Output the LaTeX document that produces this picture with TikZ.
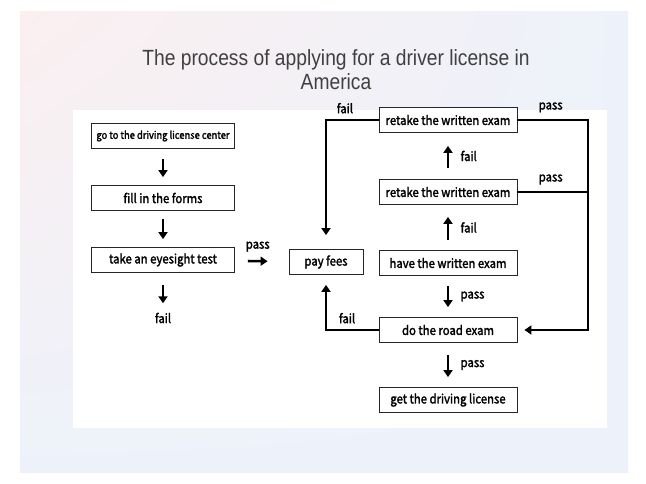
\documentclass[tikz,border=0pt]{standalone}
\usepackage{fontspec}
\setmainfont{Liberation Sans}
\newfontfamily\titlefont[FakeStretch=0.875]{Liberation Sans}
\newfontfamily\boxfont[FakeBold=2,FakeStretch=0.9]{Noto Sans CJK SC}
\usetikzlibrary{positioning,arrows.meta,shadings}

\definecolor{panelpink}{HTML}{FBEFF0}
\definecolor{panelblue}{HTML}{EDF2FA}

\begin{document}
\begin{tikzpicture}[
  x=1pt, y=-1pt,
  font=\boxfont\fontsize{12.6}{14}\selectfont,
  stage/.style={rectangle, draw=black!85, line width=0.8pt, fill=white, minimum width=138pt, minimum height=25pt, inner sep=2pt},
  ar/.style={-{Triangle[length=7pt,width=9pt]}, line width=2.6pt},
  ln/.style={line width=2.6pt}
]
% page and panels
\fill[white] (0,0) rectangle (646,484);
\shade[upper left=panelpink, upper right=panelblue, lower left=panelblue, lower right=panelblue]
  (20,12) rectangle (628,472);
\fill[white] (73,110) rectangle (607,428);
\node[font=\titlefont\fontsize{22}{24}\selectfont, text=black!75, align=center] (title) at (336,70)
  {The process of applying for a driver license in\\America};

% left column
\node[stage, minimum width=143pt, font=\boxfont\fontsize{10.4}{12}\selectfont] (center) at (163,136) {go to the driving license center};
\node[stage, minimum width=143pt] (forms) at (163,198) {fill in the forms};
\node[stage, minimum width=143pt] (eyetest) at (163,260) {take an eyesight test};
\node (eyefail) at (163,318) {fail};
\node[stage, minimum width=74pt] (fees) at (326,262) {pay fees};

% right column
\node[stage] (retakeB) at (448,120) {retake the written exam};
\node[stage] (retakeA) at (448,192) {retake the written exam};
\node[stage] (written) at (448,263) {have the written exam};
\node[stage] (road) at (448,330) {do the road exam};
\node[stage] (license) at (448,400) {get the driving license};
\coordinate (railtop) at (588,120);
\coordinate (railbot) at (588,330);

\draw[ar, shorten <=10pt, shorten >=8pt] (center) -- (forms);
\draw[ar, shorten <=8pt, shorten >=8pt] (forms) -- (eyetest);
\draw[ar, shorten <=12pt, shorten >=6pt] (eyetest) -- (eyefail);
\draw[ar, shorten <=13pt, shorten >=21pt] (eyetest) -- node[above=5pt, xshift=-4pt]{pass} (fees);

\draw[ar, shorten >=14pt] (retakeB.west) -| node[pos=0.32, above=2pt]{fail} (fees.north);
\draw[ar, shorten >=10pt] (road.west) -| node[pos=0.3, above=2pt]{fail} (fees.south);

\draw[ar, shorten <=10pt, shorten >=12pt] (written) -- node[right=8pt]{fail} (retakeA);
\draw[ar, shorten <=11pt, shorten >=13pt] (retakeA) -- node[right=8pt]{fail} (retakeB);
\draw[ar, shorten <=10pt, shorten >=10pt] (written) -- node[right=8pt]{pass} (road);
\draw[ar, shorten <=12pt, shorten >=10pt] (road) -- node[right=8pt]{pass} (license);

\draw[ar, shorten >=7pt] (retakeB.east) -- node[above=3pt, xshift=-2pt]{pass} (railtop) -- (railbot) -- (road.east);
\draw[ln] (retakeA.east) -- node[above=3pt, xshift=-2pt]{pass} (retakeA.east -| railtop);
\end{tikzpicture}
\end{document}
